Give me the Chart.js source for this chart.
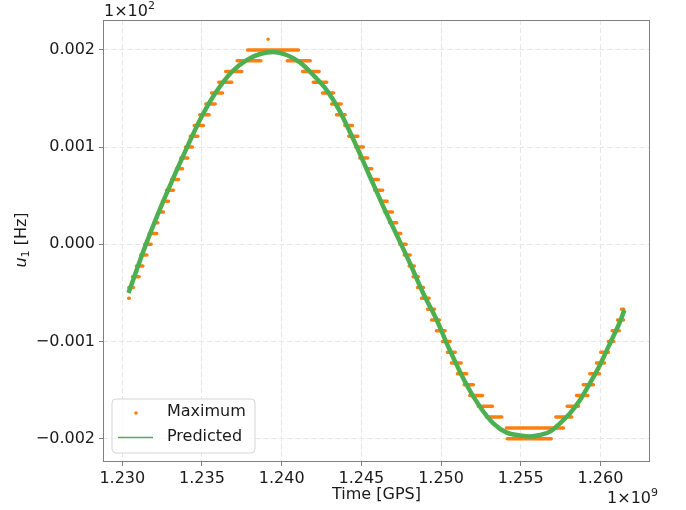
<!DOCTYPE html>
<html>
<head>
<meta charset="utf-8">
<title>u1 maximum vs predicted</title>
<script src="https://cdn.jsdelivr.net/npm/chart.js@4.4.1/dist/chart.umd.min.js"></script>
<style>
    html, body { margin: 0; padding: 0; background: #ffffff; }
    canvas { display: block; }
</style>
</head>
<body>
<canvas id="chart" width="686" height="510"></canvas>
<script>
// axis ranges and ticks (x in units of 1e9 s, y in units of 1e2 Hz)
const X_MIN = 1.22879;
const X_MAX = 1.26311;
const Y_MIN = -0.00224;
const Y_MAX = 0.002308;
const xTicks = [1.230, 1.235, 1.240, 1.245, 1.250, 1.255, 1.260];
const yTicks = [-0.002, -0.001, 0, 0.001, 0.002];

// "Maximum": each run is a flat stretch of points at one quantized level
const maxStart = [
    1.23040, 1.23041, 1.23064, 1.23089, 1.23116, 1.23141, 1.23169, 1.23200, 1.23229, 1.23252,
    1.23277, 1.23309, 1.23340, 1.23367, 1.23397, 1.23426, 1.23451, 1.23486, 1.23524, 1.23560,
    1.23605, 1.23649, 1.23721, 1.23786, 1.23915, 1.24035, 1.24131, 1.24198, 1.24256, 1.24313,
    1.24344, 1.24396, 1.24421, 1.24465, 1.24490, 1.24532, 1.24559, 1.24584, 1.24622, 1.24647,
    1.24678, 1.24716, 1.24741, 1.24769, 1.24800, 1.24825, 1.24852, 1.24877, 1.24915, 1.24940,
    1.24971, 1.25009, 1.25040, 1.25065, 1.25103, 1.25145, 1.25180, 1.25233, 1.25285, 1.25410,
    1.25415, 1.25720, 1.25791, 1.25850, 1.25892, 1.25933, 1.25975, 1.26002, 1.26049, 1.26074,
    1.26107, 1.26132
];
const maxEnd = [
    1.23044, 1.23070, 1.23106, 1.23129, 1.23154, 1.23181, 1.23216, 1.23223, 1.23258, 1.23290,
    1.23321, 1.23353, 1.23378, 1.23411, 1.23440, 1.23474, 1.23509, 1.23545, 1.23583, 1.23629,
    1.23687, 1.23750, 1.23869, 1.24105, 1.23917, 1.24179, 1.24235, 1.24283, 1.24325, 1.24373,
    1.24398, 1.24444, 1.24478, 1.24513, 1.24540, 1.24565, 1.24607, 1.24634, 1.24662, 1.24695,
    1.24722, 1.24747, 1.24781, 1.24806, 1.24833, 1.24858, 1.24890, 1.24925, 1.24959, 1.24990,
    1.25026, 1.25057, 1.25089, 1.25126, 1.25161, 1.25203, 1.25260, 1.25323, 1.25381, 1.25768,
    1.25691, 1.25820, 1.25862, 1.25921, 1.25956, 1.25994, 1.26025, 1.26050, 1.26084, 1.26118,
    1.26145, 1.26146
];
const maxValue = [
    -0.000556, -0.000444, -0.000333, -0.000222, -0.000111, 0, 0.000111, 0.000222, 0.000333, 0.000444,
    0.000556, 0.000667, 0.000778, 0.000889, 0.001, 0.001111, 0.001222, 0.001333, 0.001444, 0.001556,
    0.001667, 0.001778, 0.001889, 0.002, 0.002111, 0.001889, 0.001778, 0.001667, 0.001556, 0.001444,
    0.001333, 0.001222, 0.001111, 0.001, 0.000889, 0.000778, 0.000667, 0.000556, 0.000444, 0.000333,
    0.000222, 0.000111, 0, -0.000111, -0.000222, -0.000333, -0.000444, -0.000556, -0.000667, -0.000778,
    -0.000889, -0.001, -0.001111, -0.001222, -0.001333, -0.001444, -0.001556, -0.001667, -0.001778, -0.001889,
    -0.002, -0.001778, -0.001667, -0.001556, -0.001444, -0.001333, -0.001222, -0.001111, -0.001, -0.000889,
    -0.000778, -0.000667
];

// "Predicted" curve
const predTime = [
    1.23039, 1.23149, 1.23258, 1.23406, 1.23503, 1.23582, 1.23688, 1.23780, 1.23864,
    1.23947, 1.24031, 1.24115, 1.24198, 1.24282, 1.24355, 1.24471, 1.24554, 1.24638, 1.24722,
    1.24805, 1.24888, 1.24973, 1.25045, 1.25161, 1.25244, 1.25328, 1.25412, 1.25495, 1.25558,
    1.25621, 1.25683, 1.25746, 1.25809, 1.25872, 1.25934, 1.25997, 1.26060, 1.26123, 1.26150
];
const predValue = [
    -0.000500, 0.000002, 0.000446, 0.000998, 0.001331, 0.001552, 0.001776, 0.001896, 0.001958,
    0.001978, 0.001948, 0.001872, 0.001742, 0.001587, 0.001399, 0.001004, 0.000695, 0.000387, 0.000096,
    -0.000195, -0.000504, -0.000779, -0.001053, -0.001448, -0.001671, -0.001842, -0.001938, -0.001967, -0.001977,
    -0.001962, -0.001928, -0.001842, -0.001739, -0.001602, -0.001430, -0.001242, -0.001019, -0.000796, -0.000676
];

const FONT = "'DejaVu Sans', 'Liberation Sans', sans-serif";
const ORANGE = '#ff7f0e';
const GREEN = '#4caf50';
const SPINE = '#808080';
const TEXT = '#1a1a1a';

function buildMaximumPoints() {
    const points = [];
    maxStart.forEach((start, i) => {
        points.push({ x: start, y: maxValue[i] });
        points.push({ x: maxEnd[i], y: maxValue[i] });
        points.push({ x: maxEnd[i], y: null });
    });
    return points;
}

function formatY(value) {
    if (Math.abs(value) < 1e-9) {
        return '0.000';
    }
    return (value < 0 ? '\u2212' : '') + Math.abs(value).toFixed(3);
}

// draws a base text followed by a raised or lowered smaller piece
function drawWithScript(ctx, base, script, x, y, shift) {
    ctx.font = `16px ${FONT}`;
    ctx.fillText(base, x, y);
    const w = ctx.measureText(base).width;
    ctx.font = `11px ${FONT}`;
    ctx.fillText(script, x + w, y + shift);
    return w + ctx.measureText(script).width;
}

const decorations = {
    id: 'decorations',
    afterDraw(chart) {
        const { ctx, chartArea } = chart;
        const { left, top, right, bottom } = chartArea;
        ctx.save();

        // frame
        ctx.strokeStyle = SPINE;
        ctx.lineWidth = 1;
        ctx.setLineDash([]);
        ctx.strokeRect(left + 0.5, top + 0.5, right - left - 1, bottom - top - 1);

        ctx.fillStyle = TEXT;
        ctx.textBaseline = 'alphabetic';
        ctx.textAlign = 'left';

        // offset labels
        drawWithScript(ctx, '1\u00d710', '2', left + 1, 16, -7);
        ctx.font = `16px ${FONT}`;
        const baseW = ctx.measureText('1\u00d710').width;
        ctx.font = `11px ${FONT}`;
        const supW = ctx.measureText('9').width;
        drawWithScript(ctx, '1\u00d710', '9', 658 - baseW - supW, 503, -7);

        // x axis title
        ctx.font = `16px ${FONT}`;
        ctx.textAlign = 'center';
        ctx.textBaseline = 'middle';
        ctx.fillText('Time [GPS]', (left + right) / 2, 495);

        // y axis title: italic u, subscript 1, then unit
        ctx.save();
        ctx.translate(22, 240);
        ctx.rotate(-Math.PI / 2);
        ctx.textAlign = 'left';
        ctx.font = `italic 16px ${FONT}`;
        const uW = ctx.measureText('u').width;
        ctx.font = `11px ${FONT}`;
        const subW = ctx.measureText('1').width;
        ctx.font = `16px ${FONT}`;
        const unitW = ctx.measureText(' [Hz]').width;
        let x = -(uW + subW + unitW) / 2;
        ctx.font = `italic 16px ${FONT}`;
        ctx.fillText('u', x, 0);
        x += uW;
        ctx.font = `11px ${FONT}`;
        ctx.fillText('1', x, 4);
        x += subW;
        ctx.font = `16px ${FONT}`;
        ctx.fillText(' [Hz]', x, 0);
        ctx.restore();

        // legend box
        const bx = 112, by = 399, bw = 143, bh = 54, r = 4;
        ctx.beginPath();
        ctx.moveTo(bx + r, by);
        ctx.arcTo(bx + bw, by, bx + bw, by + bh, r);
        ctx.arcTo(bx + bw, by + bh, bx, by + bh, r);
        ctx.arcTo(bx, by + bh, bx, by, r);
        ctx.arcTo(bx, by, bx + bw, by, r);
        ctx.closePath();
        ctx.fillStyle = 'rgba(255, 255, 255, 0.8)';
        ctx.fill();
        ctx.strokeStyle = '#d6d6d6';
        ctx.stroke();

        ctx.fillStyle = ORANGE;
        ctx.beginPath();
        ctx.arc(136, 413, 1.8, 0, Math.PI * 2);
        ctx.fill();

        ctx.strokeStyle = GREEN;
        ctx.lineWidth = 1.5;
        ctx.beginPath();
        ctx.moveTo(118, 437.5);
        ctx.lineTo(153, 437.5);
        ctx.stroke();

        ctx.fillStyle = TEXT;
        ctx.font = `16px ${FONT}`;
        ctx.textAlign = 'left';
        ctx.textBaseline = 'middle';
        ctx.fillText('Maximum', 167, 412);
        ctx.fillText('Predicted', 167, 437);

        ctx.restore();
    }
};

const gridOptions = {
    color: '#e6e6e6',
    lineWidth: 1,
    tickColor: SPINE,
    tickLength: 4,
    tickWidth: 1,
    tickBorderDash: []
};

new Chart(document.getElementById('chart'), {
    type: 'line',
    data: {
        datasets: [
            {
                label: 'Predicted',
                data: predTime.map((t, i) => ({ x: t, y: predValue[i] })),
                borderColor: GREEN,
                borderWidth: 4.5,
                pointRadius: 0,
                cubicInterpolationMode: 'monotone',
                fill: false
            },
            {
                label: 'Maximum',
                data: buildMaximumPoints(),
                borderColor: ORANGE,
                borderWidth: 3.5,
                borderCapStyle: 'round',
                pointRadius: 0,
                spanGaps: false,
                tension: 0,
                fill: false
            }
        ]
    },
    options: {
        responsive: false,
        animation: false,
        events: [],
        layout: { padding: { top: 20, right: 36, left: 0, bottom: 0 } },
        plugins: {
            legend: { display: false },
            tooltip: { enabled: false }
        },
        scales: {
            x: {
                type: 'linear',
                min: X_MIN,
                max: X_MAX,
                afterBuildTicks: (scale) => { scale.ticks = xTicks.map((v) => ({ value: v })); },
                afterFit: (scale) => { scale.height = 48; },
                grid: gridOptions,
                border: { display: false, dash: [5, 3] },
                ticks: {
                    autoSkip: false,
                    maxRotation: 0,
                    padding: 3,
                    color: TEXT,
                    font: { family: FONT, size: 16 },
                    callback: (value) => Number(value).toFixed(3)
                }
            },
            y: {
                type: 'linear',
                min: Y_MIN,
                max: Y_MAX,
                afterBuildTicks: (scale) => { scale.ticks = yTicks.map((v) => ({ value: v })); },
                afterFit: (scale) => { scale.width = 103; },
                grid: gridOptions,
                border: { display: false, dash: [5, 3] },
                ticks: {
                    autoSkip: false,
                    padding: 4,
                    color: TEXT,
                    font: { family: FONT, size: 16 },
                    callback: (value) => formatY(value)
                }
            }
        }
    },
    plugins: [decorations]
});
</script>
</body>
</html>
